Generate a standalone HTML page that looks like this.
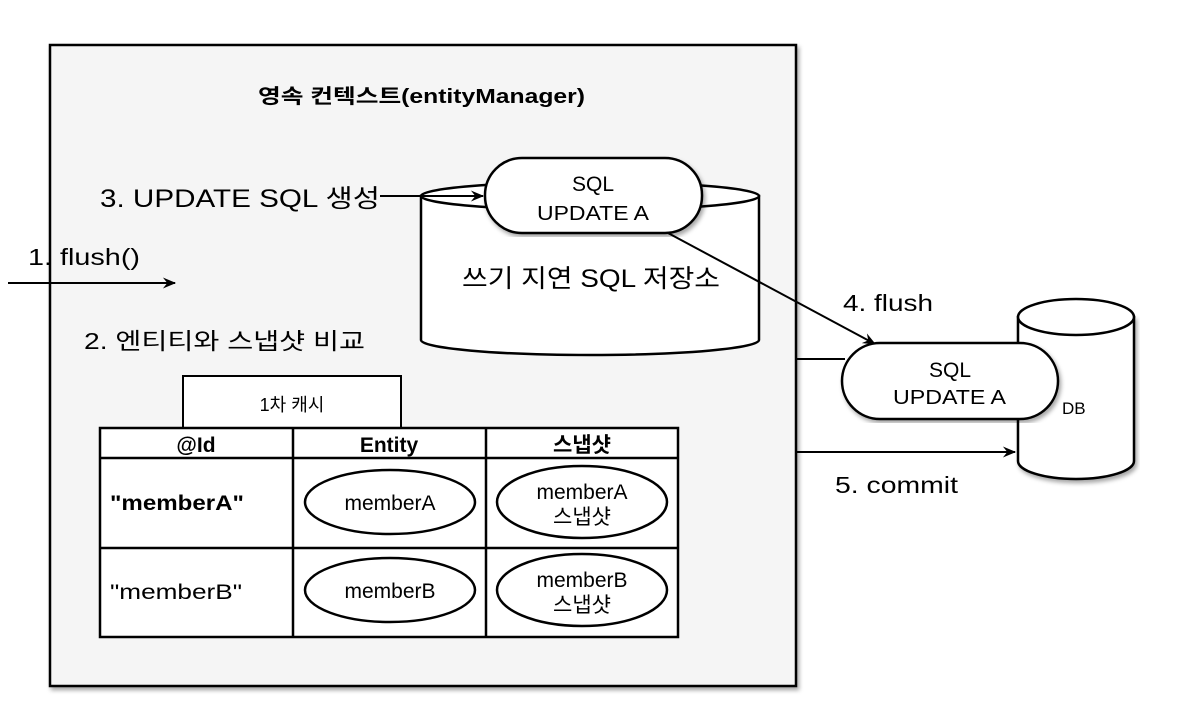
<!DOCTYPE html>
<html><head><meta charset="utf-8"><style>
html,body{margin:0;padding:0;background:#fff;}
svg{display:block;font-family:"Liberation Sans","Noto Sans CJK KR",sans-serif;}
</style></head><body>
<svg width="1186" height="718" viewBox="0 0 1186 718" xmlns="http://www.w3.org/2000/svg">
<defs>
<marker id="ah" viewBox="0 0 12 10" refX="11" refY="5" markerWidth="14" markerHeight="11" markerUnits="userSpaceOnUse" orient="auto"><path d="M0,0 L12,5 L0,10 L4,5 Z" fill="#000"/></marker>
<filter id="sh" x="-5%" y="-5%" width="110%" height="110%"><feDropShadow dx="2" dy="3" stdDeviation="2" flood-opacity="0.35"/></filter>
</defs>
<rect x="50" y="45" width="746" height="641" fill="#f5f5f5" stroke="#000" stroke-width="2.5" filter="url(#sh)"/>
<text x="258" y="103" font-size="20" font-weight="bold" textLength="327" lengthAdjust="spacingAndGlyphs">영속 컨텍스트(entityManager)</text>

<g fill="#fff" stroke="#000" stroke-width="2.5">
<path d="M421,196 L421,340 A169,15 0 0 0 759,340 L759,196 Z"/>
<ellipse cx="590" cy="196" rx="169" ry="14"/>
<rect x="485" y="158" width="217" height="75" rx="37" ry="37" filter="url(#sh)"/>
</g>
<text x="593" y="191" font-size="21" text-anchor="middle">SQL</text>
<text x="537" y="220" font-size="20" textLength="112" lengthAdjust="spacingAndGlyphs">UPDATE A</text>
<text x="462" y="287" font-size="25" textLength="258" lengthAdjust="spacingAndGlyphs">쓰기 지연 SQL 저장소</text>

<text x="100" y="207" font-size="25" textLength="280" lengthAdjust="spacingAndGlyphs">3. UPDATE SQL 생성</text>
<line x1="380" y1="196" x2="483" y2="196" stroke="#000" stroke-width="2" marker-end="url(#ah)"/>
<text x="28" y="265" font-size="23" textLength="112" lengthAdjust="spacingAndGlyphs">1. flush()</text>
<line x1="8" y1="283" x2="175" y2="283" stroke="#000" stroke-width="2" marker-end="url(#ah)"/>
<text x="84" y="349" font-size="23" textLength="281" lengthAdjust="spacingAndGlyphs">2. 엔티티와 스냅샷 비교</text>

<line x1="668" y1="233" x2="875" y2="344" stroke="#000" stroke-width="2" marker-end="url(#ah)"/>
<text x="843" y="311" font-size="23" textLength="90" lengthAdjust="spacingAndGlyphs">4. flush</text>

<g fill="#fff" stroke="#000" stroke-width="2.5">
<path d="M1018,317 L1018,461 A58,18 0 0 0 1134,461 L1134,317 Z" filter="url(#sh)"/>
<ellipse cx="1076" cy="317" rx="58" ry="18"/>
</g>
<line x1="796" y1="359" x2="845" y2="359" stroke="#000" stroke-width="2"/>
<rect x="842" y="343" width="216" height="76" rx="38" ry="38" fill="#fff" stroke="#000" stroke-width="2.5" filter="url(#sh)"/>
<text x="950" y="377" font-size="21" text-anchor="middle">SQL</text>
<text x="893" y="404" font-size="20" textLength="113" lengthAdjust="spacingAndGlyphs">UPDATE A</text>
<text x="1062" y="414" font-size="17">DB</text>
<line x1="796" y1="452" x2="1015" y2="452" stroke="#000" stroke-width="2" marker-end="url(#ah)"/>
<text x="835" y="493" font-size="23" textLength="123" lengthAdjust="spacingAndGlyphs">5. commit</text>

<rect x="183" y="376" width="218" height="52" fill="#fff" stroke="#000" stroke-width="2"/>
<text x="292" y="411" font-size="18" text-anchor="middle">1차 캐시</text>
<g fill="none" stroke="#000" stroke-width="2.5">
<rect x="100" y="428" width="578" height="209" fill="#fff"/>
<line x1="100" y1="458" x2="678" y2="458"/>
<line x1="100" y1="548" x2="678" y2="548"/>
<line x1="293" y1="428" x2="293" y2="637"/>
<line x1="486" y1="428" x2="486" y2="637"/>
</g>
<g font-size="21" font-weight="bold" text-anchor="middle">
<text x="196" y="452">@Id</text><text x="389" y="452">Entity</text><text x="582" y="452">스냅샷</text>
</g>
<text x="110" y="510" font-size="21" font-weight="bold" textLength="134" lengthAdjust="spacingAndGlyphs">"memberA"</text>
<text x="110" y="599" font-size="21" textLength="132" lengthAdjust="spacingAndGlyphs">"memberB"</text>
<g fill="#fff" stroke="#000" stroke-width="2.5">
<ellipse cx="390" cy="502" rx="85" ry="32"/>
<ellipse cx="582" cy="502" rx="85" ry="36"/>
<ellipse cx="390" cy="590" rx="85" ry="32"/>
<ellipse cx="582" cy="590" rx="85" ry="36"/>
</g>
<g font-size="21" text-anchor="middle">
<text x="390" y="510">memberA</text>
<text x="582" y="499">memberA</text><text x="582" y="524">스냅샷</text>
<text x="390" y="598">memberB</text>
<text x="582" y="587">memberB</text><text x="582" y="612">스냅샷</text>
</g>
</svg>
</body></html>
